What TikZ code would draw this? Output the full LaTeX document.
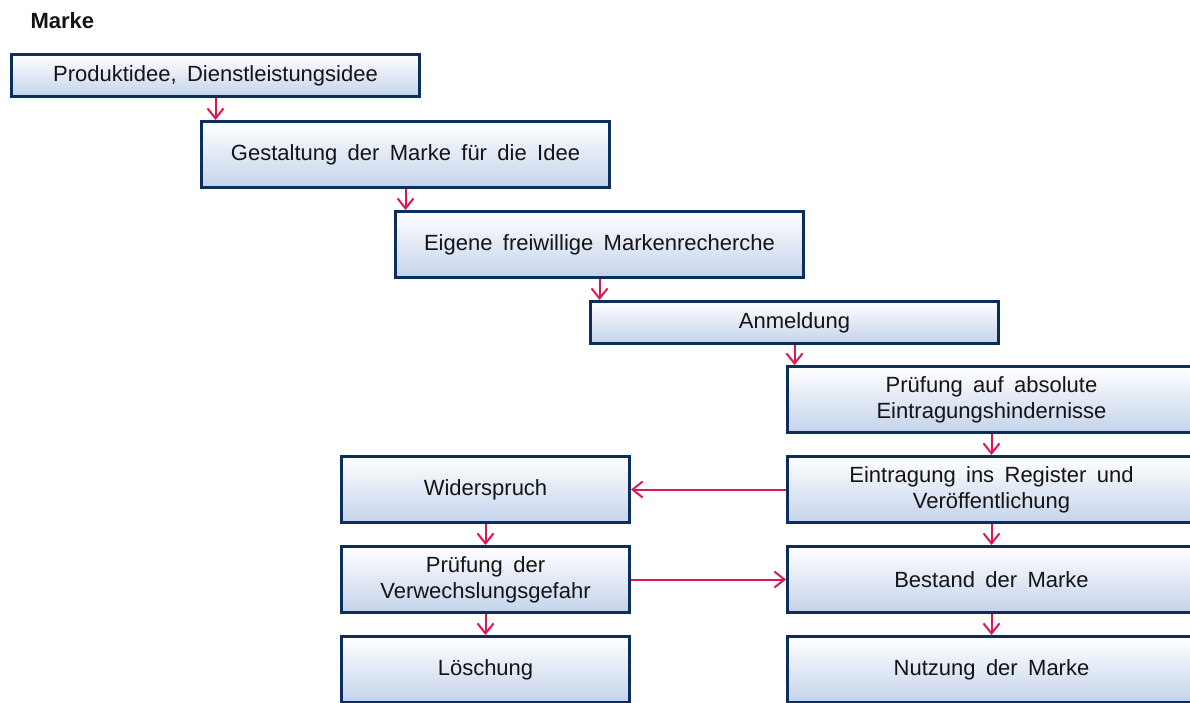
\documentclass[tikz,border=0pt]{standalone}
\usepackage{fontspec}
\setmainfont{Liberation Sans}[WordSpace=1.7]
\usetikzlibrary{arrows.meta}
\definecolor{navy}{RGB}{12,46,94}
\definecolor{boxbot}{RGB}{196,211,235}
\definecolor{arr}{RGB}{222,22,84}
\definecolor{txt}{RGB}{20,20,20}
\begin{document}
\begin{tikzpicture}[x=1pt,y=-1pt,
  box/.style={draw=navy, line width=3pt, top color=white, bottom color=boxbot,
    inner sep=0pt, anchor=north west, align=center, text=txt,
    font=\fontsize{22}{26}\selectfont},
  wide/.style={minimum width=408pt},
  narrow/.style={minimum width=288pt},
  tall/.style={minimum height=66pt},
  flat/.style={minimum height=42pt},
  flow/.style={draw=arr, line width=2pt, -{Straight Barb[length=10pt,width=16pt,line width=2pt]}}]
\useasboundingbox (0,0) rectangle (1190,702);
\clip (0,0) rectangle (1190,702);
\fill[white] (0,0) rectangle (1190,702);
\node[anchor=base west, font=\fontsize{22}{26}\selectfont\bfseries, text=txt] (title) at (27,28) {Marke};
\node[box, wide, flat] (b1) at (10,53) {Produktidee, Dienstleistungsidee};
\node[box, wide, tall] (b2) at (200,120) {Gestaltung der Marke für die Idee};
\node[box, wide, tall] (b3) at (394,210) {Eigene freiwillige Markenrecherche};
\node[box, wide, flat] (b4) at (589,300) {Anmeldung};
\node[box, wide, tall] (b5) at (786,365) {Prüfung auf absolute\\Eintragungshindernisse};
\node[box, wide, tall] (b6) at (786,455) {Eintragung ins Register und\\Veröffentlichung};
\node[box, wide, tall] (b7) at (786,545) {Bestand der Marke};
\node[box, wide, tall] (b8) at (786,635) {Nutzung der Marke};
\node[box, narrow, tall] (b9) at (340,455) {Widerspruch};
\node[box, narrow, tall] (b10) at (340,545) {Prüfung der\\Verwechslungsgefahr};
\node[box, narrow, tall] (b11) at (340,635) {Löschung};
\draw[flow] (b1.south) -- (b1.south |- b2.north);
\draw[flow] (b2.south) -- (b2.south |- b3.north);
\draw[flow] (b3.south) -- (b3.south |- b4.north);
\draw[flow] (b4.south) -- (b4.south |- b5.north);
\draw[flow] (b5.south) -- (b6.north);
\draw[flow] (b6.south) -- (b7.north);
\draw[flow] (b7.south) -- (b8.north);
\draw[flow] (b9.south) -- (b10.north);
\draw[flow] (b10.south) -- (b11.north);
\draw[flow] (b6.west) -- (b9.east);
\draw[flow] (b10.east) -- (b7.west);
\end{tikzpicture}
\end{document}
